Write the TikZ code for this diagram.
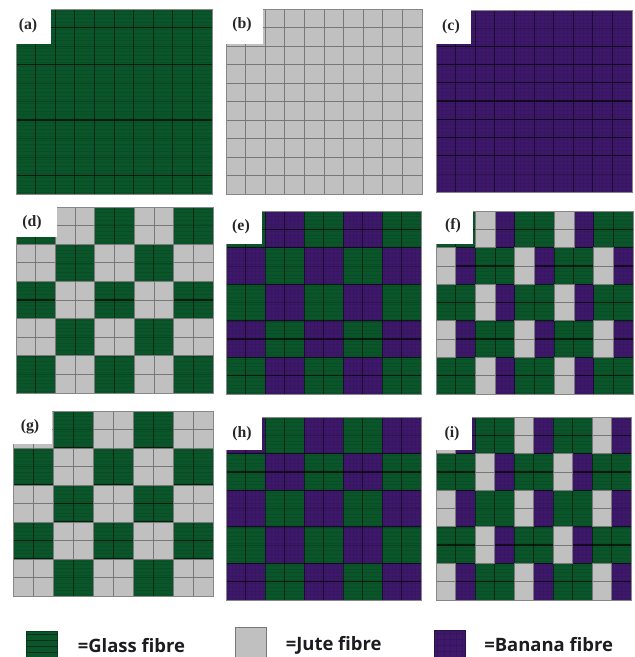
\documentclass[tikz,border=0pt]{standalone}
\usepackage{xcolor}
\usepackage{fontspec}
\setmainfont{Liberation Serif}
\newfontfamily\legendfont{Open Sans}
\usetikzlibrary{positioning, calc}
\definecolor{fibreG}{RGB}{10,86,42}
\definecolor{fibreJ}{RGB}{192,192,192}
\definecolor{fibreB}{RGB}{62,24,106}
\definecolor{juteline}{RGB}{120,120,120}
\definecolor{edgeline}{RGB}{135,135,135}
\definecolor{legendink}{RGB}{28,28,32}
\tikzset{
  hstripes/.style={path picture={
    \foreach \s in {0.1,0.3,0.5,0.7,0.9}
      \draw[#1, line width=0.25pt]
        ($(path picture bounding box.south west)!\s!(path picture bounding box.north west)$) -- ++(40,0);}},
  gridstripes/.style={path picture={
    \foreach \s in {0.1,0.3,0.5,0.7,0.9} {
      \draw[#1, line width=0.2pt]
        ($(path picture bounding box.south west)!\s!(path picture bounding box.north west)$) -- ++(40,0);
      \draw[#1, line width=0.2pt]
        ($(path picture bounding box.south west)!\s!(path picture bounding box.south east)$) -- ++(0,-40);
    }}},
  cellG/.style={fill=fibreG, hstripes=fibreG!90!black},
  cellJ/.style={fill=fibreJ},
  cellB/.style={fill=fibreB, gridstripes=fibreB!92!black},
  overG/.style={},
  overB/.style={},
  overJ/.style={fill=fibreJ, draw=juteline, line width=0.45pt},
  colline/.style={black, opacity=0.5, line width=0.5pt},
  rowline/.style={black, opacity=0.18, line width=0.35pt},
  heavyline/.style={black, opacity=0.62, line width=0.7pt},
  panelbox/.style={draw=edgeline, line width=0.4pt},
  paneltag/.style={font=\small\bfseries, inner sep=0pt, text=black!85},
  swatch/.style={minimum width=0.62cm, minimum height=0.6cm, inner sep=0pt, line width=0.5pt},
  legendtext/.style={font=\legendfont\fontsize{10.5}{12}\selectfont\bfseries, text=legendink, inner sep=0pt}
}
\newcommand{\fibrecells}[1]{%
  \foreach \r in {0,...,9} {
    \pgfmathtruncatemacro{\br}{mod(int(\r/2),2)}
    \ifnum\br=0 \let\rw\pa \else \let\rw\pb \fi
    \foreach \c [count=\i from 0] in \rw
      \path[#1\c] (\xa+\i*\cw,\ya+\r*\ch) rectangle (\xa+\i*\cw+\cw,\ya+\r*\ch+\ch);
  }}

\begin{document}
\begin{tikzpicture}[x=0.02cm, y=-0.02cm]
  \useasboundingbox (0,0) rectangle (635,657);

  \foreach \nm/\xa/\ya/\xb/\yb/\xn/\yn/\lx/\ly/\hv/\pa/\pb in {
    a/16/9/212/194/51/44/28/26/{1,3,6,9}/{G,G,G,G,G,G,G,G,G,G}/{G,G,G,G,G,G,G,G,G,G},
    b/226/9/422/194/263/44/242/25/{2}/{J,J,J,J,J,J,J,J,J,J}/{J,J,J,J,J,J,J,J,J,J},
    c/436/10/632/192/471/44/451/27/{2,3,4,5,6,7,8}/{B,B,B,B,B,B,B,B,B,B}/{B,B,B,B,B,B,B,B,B,B},
    d/16/207/213/393/57/237/32/223/{2,4,5,6,8}/{G,G,J,J,G,G,J,J,G,G}/{J,J,G,G,J,J,G,G,J,J},
    e/226/211/421/394/262/244/241/227/{1,2,4,6,7,8,9}/{G,G,B,B,G,G,B,B,G,G}/{B,B,G,G,B,B,G,G,B,B},
    f/436/211/633/394/473/244/453/226/{1,2,3,4,5,6,7,8,9}/{G,G,J,B,G,G,J,B,G,G}/{J,B,G,G,J,B,G,G,J,B},
    g/13/411/213/596/52/444/30/427/{2,4,5,6,7,8}/{J,J,G,G,J,J,G,G,J,J}/{G,G,J,J,G,G,J,J,G,G},
    h/226/417/421/600/262/450/242/434/{2,3,4,6,8,9}/{B,B,G,G,B,B,G,G,B,B}/{G,G,B,B,G,G,B,B,G,G},
    i/436/417/631/600/472/450/452/434/{1,2,3,4,6,7,8,9}/{J,B,G,G,J,B,G,G,J,B}/{G,G,J,B,G,G,J,B,G,G}} {
    \pgfmathsetmacro{\cw}{(\xb-\xa)/10}
    \pgfmathsetmacro{\ch}{(\yb-\ya)/10}
    \fibrecells{cell}
    \foreach \k in {1,...,9} {
      \draw[colline] (\xa+\k*\cw,\ya) -- (\xa+\k*\cw,\yb);
      \draw[rowline] (\xa,\ya+\k*\ch) -- (\xb,\ya+\k*\ch);
    }
    \foreach \k in \hv \draw[heavyline] (\xa,\ya+\k*\ch) -- (\xb,\ya+\k*\ch);
    \fibrecells{over}
    \draw[panelbox] (\xa,\ya) rectangle (\xb,\yb);
    \fill[white] (\xa-1,\ya-1) rectangle (\xn,\yn);
    \node[paneltag] (tag\nm) at (\lx,\ly) {(\nm)};
  }

  \node[swatch, draw=fibreG!70!black, fill=fibreG, hstripes=fibreG!55!black] (glassbox) at (41.5,646) {};
  \node[swatch, draw=juteline, cellJ, minimum height=0.62cm] (jutebox) at (250.5,643) {};
  \node[swatch, draw=fibreB!70!black, fill=fibreB, gridstripes=fibreB!87!black] (bananabox) at (450,645) {};
  \node[legendtext, right=0.4cm of glassbox, yshift=0.01cm] (glasstext) {=Glass fibre};
  \node[legendtext, right=0.38cm of jutebox, yshift=-0.04cm] (jutetext) {=Jute fibre};
  \node[legendtext, right=0.36cm of bananabox] (bananatext) {=Banana fibre};
\end{tikzpicture}
\end{document}
